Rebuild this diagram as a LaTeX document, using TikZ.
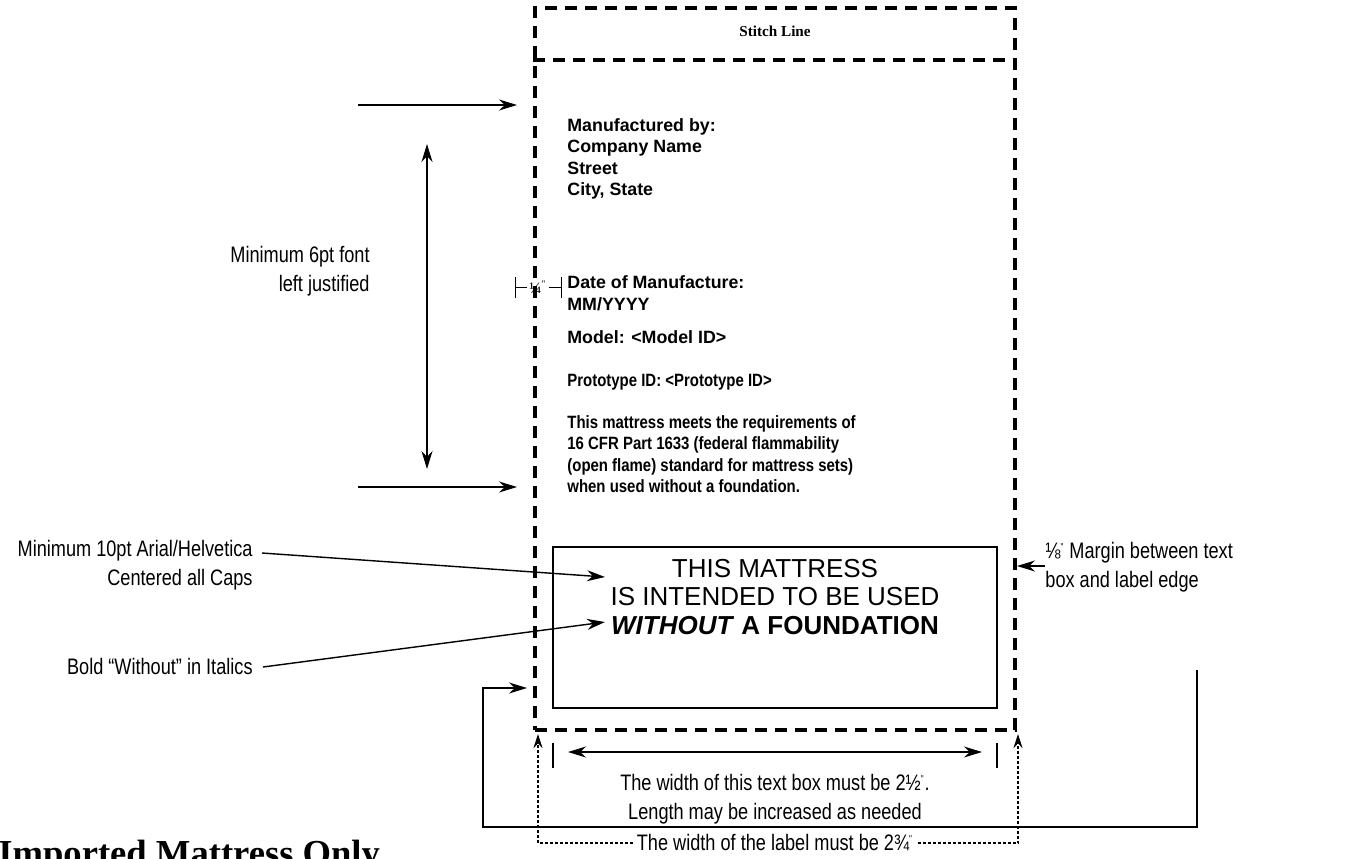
\documentclass[tikz,border=0pt]{standalone}
\usepackage{fontspec}
\setmainfont{Liberation Sans}
\newfontfamily\narrowfont[FakeStretch=0.81]{Liberation Sans}
\newfontfamily\tightfont[FakeStretch=0.84]{Liberation Sans}
\newfontfamily\timesfont{Liberation Serif}
\usetikzlibrary{arrows.meta, positioning, calc}
\newcommand{\inchmark}{\textsuperscript{\tiny"}}
\tikzset{
  labeledge/.style={draw, line width=2.2pt, dash pattern=on 6pt off 4pt},
  textbox/.style={draw, line width=1.2pt},
  note/.style={font=\narrowfont\fontsize{11.2}{14.2}\selectfont, inner sep=0pt},
  fine/.style={font=\bfseries\fontsize{8.9}{10.75}\selectfont, inner sep=0pt,
    align=left, anchor=west},
  finetight/.style={fine, font=\tightfont\bfseries\fontsize{8.9}{10.75}\selectfont},
  warn/.style={font=\fontsize{13}{14.25}\selectfont, inner sep=0pt, align=center},
  pointer/.style={-{Stealth[length=9pt, width=5.5pt]}, line width=0.7pt},
  twoway/.style={{Stealth[length=9pt, width=5.5pt]}-{Stealth[length=9pt, width=5.5pt]},
    line width=0.7pt},
  dotpointer/.style={-{Stealth[length=7pt, width=4.5pt]}, line width=0.6pt,
    dash pattern=on 1.5pt off 1pt},
}

\begin{document}
\begin{tikzpicture}[x=0.5pt, y=-0.5pt]
  \useasboundingbox (0,0) rectangle (1371,858);

  % the label and its stitch strip
  \node[labeledge, minimum width=240pt, minimum height=361pt] (lbl) at (775,369) {};
  \coordinate (sep) at (0,60);
  \draw[labeledge] (lbl.west |- sep) -- (lbl.east |- sep);
  \node[font=\timesfont\bfseries\fontsize{7.6}{8}\selectfont] (stitch) at (775,31) {Stitch Line};

  % label contents
  \node[fine] (maker) at (567,159) {Manufactured by:\\Company Name\\Street\\City, State};
  \node[fine] (date) at (567,293) {Date of Manufacture:\\MM/YYYY};
  \node[fine] (model) at (567,337) {Model: <Model ID>};
  \node[finetight] (proto) at (567,382) {Prototype ID: <Prototype ID>};
  \node[finetight] (meets) at (567,454) {This mattress meets the requirements of\\16 CFR Part 1633 (federal flammability\\(open flame) standard for mattress sets)\\when used without a foundation.};

  \node[textbox, minimum width=222pt, minimum height=80.5pt] (tbox) at (775,627.5) {};
  \node[warn] (warning) at (775,597) {THIS MATTRESS\\IS INTENDED TO BE USED\\\textbf{\textit{WITHOUT} A FOUNDATION}};

  % quarter inch indent
  \node[font=\timesfont\fontsize{8}{9}\selectfont, inner sep=1pt] (quarter) at (538,287) {¼\inchmark};
  \coordinate (qL) at (515,287);
  \coordinate (qR) at (561,287);
  \draw[line width=0.5pt] ($(qL)+(0,-10)$) -- ($(qL)+(0,11)$);
  \draw[line width=0.5pt] ($(qR)+(0,-10)$) -- ($(qR)+(0,11)$);
  \draw[line width=0.5pt] (qL) -- (quarter.west);
  \draw[line width=0.5pt] (quarter.east) -- (qR);

  % left notes
  \node[note, anchor=east, align=right] (sixpt) at (370,271) {Minimum 6pt font\\left justified};
  \coordinate (topfrom) at (358,105);
  \coordinate (topto) at (517,105);
  \coordinate (lowfrom) at (358,487);
  \coordinate (lowto) at (517,487);
  \draw[pointer] (topfrom) -- (topto);
  \draw[pointer] (lowfrom) -- (lowto);
  \coordinate (spanT) at (427,144);
  \coordinate (spanB) at (427,469);
  \draw[twoway] (spanT) -- (spanB);

  \node[note, anchor=east, align=right] (capsnote) at (253,565) {Minimum 10pt Arial/Helvetica\\Centered all Caps};
  \coordinate (capsfrom) at (262,553);
  \coordinate (capsto) at (605,577);
  \draw[pointer] (capsfrom) -- (capsto);

  \node[note, anchor=east, align=right] (boldnote) at (253,666) {Bold “Without” in Italics};
  \coordinate (boldfrom) at (263,667);
  \coordinate (boldto) at (605,622);
  \draw[pointer] (boldfrom) -- (boldto);

  % right note and its bracket
  \node[note, anchor=west, align=left] (margnote) at (1045,567) {⅛\inchmark{} Margin between text\\box and label edge};
  \coordinate (margto) at (1017,566);
  \draw[pointer] (margnote.west |- margto) -- (margto);
  \coordinate (brkfrom) at (1197,670);
  \coordinate (brkfoot) at (483,827);
  \coordinate (brkto) at (527,688);
  \draw[pointer] (brkfrom) |- (brkfoot) |- (brkto);

  % widths
  \coordinate (tickL) at (553,755);
  \coordinate (tickR) at (997,755);
  \draw[line width=0.7pt] ($(tickL)+(0,-12)$) -- ($(tickL)+(0,13)$);
  \draw[line width=0.7pt] ($(tickR)+(0,-12)$) -- ($(tickR)+(0,13)$);
  \draw[twoway] ($(tickL)+(15,-3)$) -- ($(tickR)+(-15,-3)$);
  \node[note, align=center] (boxwidth) at (775,799) {The width of this text box must be 2½\inchmark.\\Length may be increased as needed};

  \node[note] (lblwidth) at (775,843) {The width of the label must be 2¾\inchmark};
  \coordinate (cornerL) at (538,734);
  \coordinate (cornerR) at (1018,734);
  \draw[dotpointer] ([xshift=-2]lblwidth.west) -| (cornerL);
  \draw[dotpointer] ([xshift=2]lblwidth.east) -| (cornerR);

  \node[font=\timesfont\bfseries\fontsize{18.3}{20}\selectfont, anchor=base west, inner sep=0pt] (title) at (-2,865) {Imported Mattress Only};
\end{tikzpicture}
\end{document}
